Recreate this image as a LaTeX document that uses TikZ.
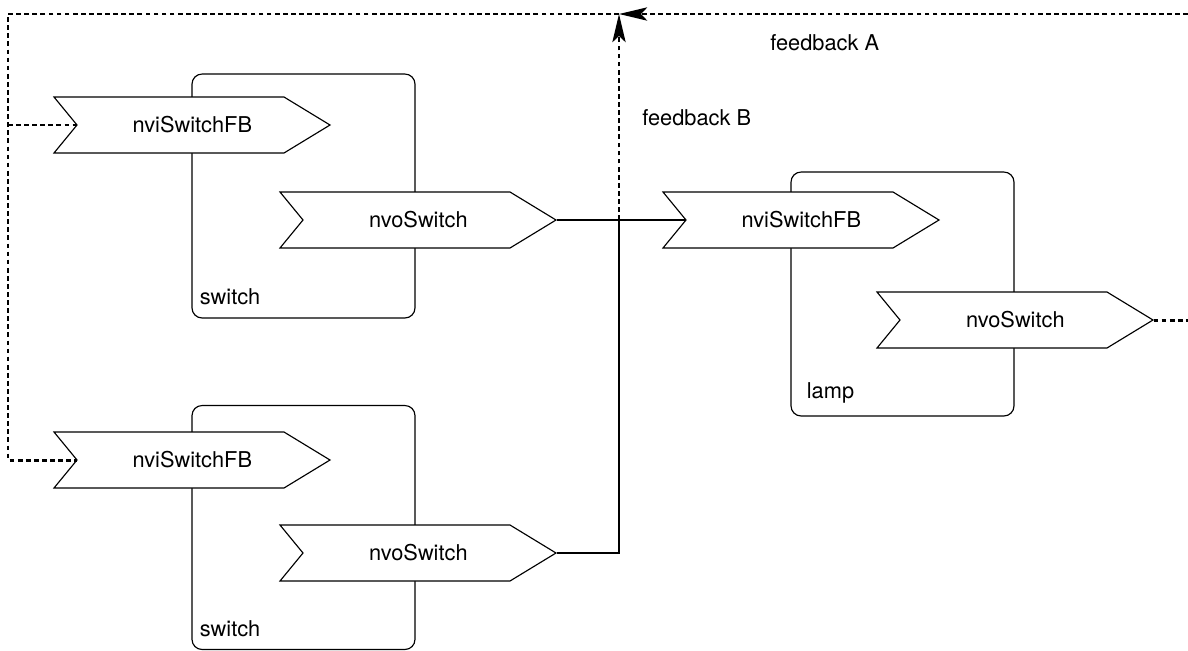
\documentclass[tikz,border=0pt]{standalone}
\usepackage{fontspec}
\setmainfont{TeX Gyre Heros}
\usepackage{tikz}
\usetikzlibrary{positioning}
\usetikzlibrary{arrows.meta}

\tikzset{
  devbox/.style={draw, line width=0.65pt, rounded corners=0.2cm,
    minimum width=4.46cm, minimum height=4.88cm},
  boxname/.style={inner sep=0pt},
  port/.style={inner sep=0pt, minimum width=5.52cm, minimum height=1.12cm},
  portline/.style={draw, fill=white, line width=0.65pt},
  wire/.style={line width=1.5pt},
  feedback/.style={line width=1.7pt, dash pattern=on 2.7pt off 1.9pt},
  fbtip/.style={-{Stealth[length=16pt, width=7.5pt, inset=3.5pt]}}
}

% chevron port: name, x of left edge, y of centre, text
\newcommand{\fbport}[4]{%
  \filldraw[portline] (#2,#3) ++(0,-28) -- ++(230,0) -- ++(46,28) -- ++(-46,28)
    -- ++(-230,0) -- ++(23,-28) -- cycle;
  \node[port, anchor=west] (#1) at (#2,#3) {#4};
  \coordinate (#1-in) at ([xshift=0.46cm]#1.west);
}

\begin{document}
\begin{tikzpicture}[x=0.02cm, y=-0.02cm, font=\fontsize{12.4}{15}\selectfont]
  \useasboundingbox (0,0) rectangle (1188,650);

  % devices
  \node[devbox] (switchA) at (303.5,196) {};
  \node[devbox] (switchB) at (303.5,527.5) {};
  \node[devbox] (lamp) at (902.5,294) {};
  \node[boxname, above right=0.26cm and 0.16cm of switchA.south west] (switchAname) {switch};
  \node[boxname, above right=0.26cm and 0.16cm of switchB.south west] (switchBname) {switch};
  \node[boxname, above right=0.26cm and 0.32cm of lamp.south west] (lampname) {lamp};

  % ports
  \fbport{switchAin}{54}{125}{nviSwitchFB}
  \fbport{switchAout}{280}{220}{nvoSwitch}
  \fbport{switchBin}{54}{460}{nviSwitchFB}
  \fbport{switchBout}{280}{553}{nvoSwitch}
  \fbport{lampin}{663}{220}{nviSwitchFB}
  \fbport{lampout}{877}{320}{nvoSwitch}

  % free ends and joints
  \coordinate (rightA) at (1188,14);
  \coordinate (rightout) at (1188,320);
  \coordinate (joinA) at (619,14);
  \coordinate (joinB) at (619,220);
  \coordinate (leftrail) at (8,14);

  % switch outputs to lamp
  \draw[wire] (switchAout.east) -- (lampin-in);
  \draw[wire] (switchBout.east) -| (joinB);

  % feedback
  \draw[feedback] (lampout.east) -- (rightout);
  \draw[feedback, fbtip] (rightA) -- (joinA);
  \draw[feedback, fbtip] (joinB) -- (joinA);
  \draw[feedback] (joinA) -- (leftrail) |- (switchBin-in);
  \draw[feedback] (leftrail |- switchAin-in) -- (switchAin-in);

  \node[anchor=west, inner sep=0pt] (fbAlabel) at (770,43) {feedback A};
  \node[anchor=west, inner sep=0pt] (fbBlabel) at (642,118) {feedback B};
\end{tikzpicture}
\end{document}
